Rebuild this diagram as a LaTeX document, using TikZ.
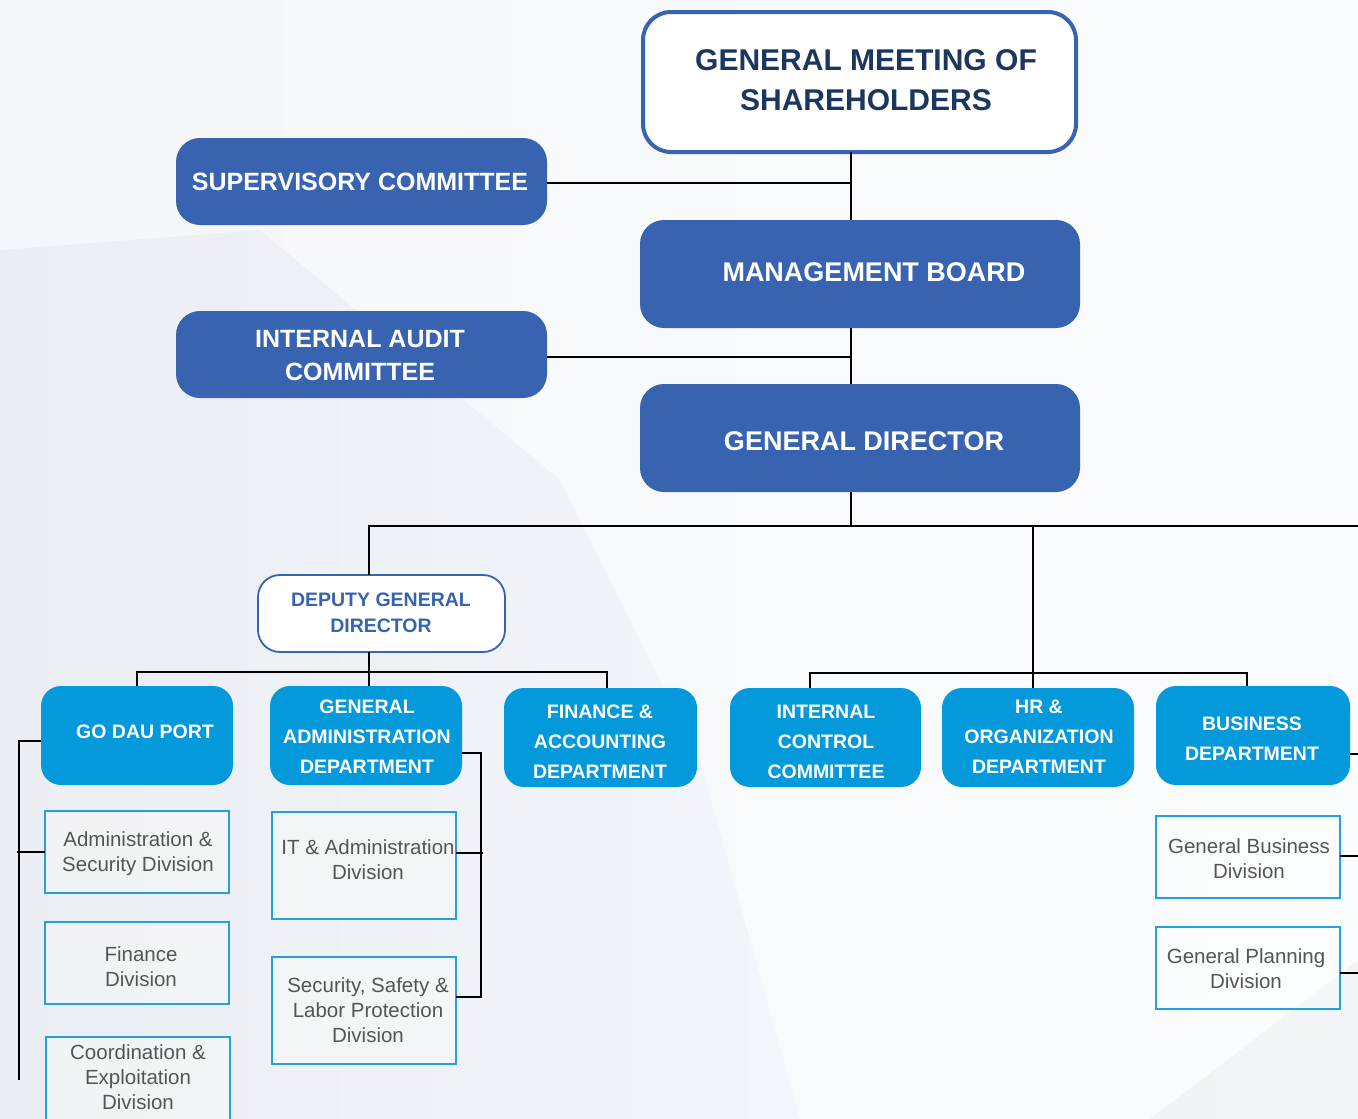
\documentclass[tikz,border=0pt]{standalone}
\usepackage{fontspec}
\setmainfont{Liberation Sans}
\definecolor{navy}{HTML}{1B365F}
\definecolor{midblue}{HTML}{3763B0}
\definecolor{brightblue}{HTML}{0499DB}
\definecolor{divborder}{HTML}{22A0E0}
\definecolor{graytext}{HTML}{555555}
\definecolor{bgA}{HTML}{EAEEF3}
\definecolor{bgB}{HTML}{F8FAFD}
\tikzset{
  box/.style={inner sep=0pt, outer sep=0pt},
  topbox/.style={box, draw=midblue, line width=4pt, fill=white, rounded corners=28pt},
  bluebox/.style={box, fill=midblue, rounded corners=24pt},
  deputybox/.style={box, draw=midblue, line width=1.8pt, fill=white, rounded corners=22pt},
  deptbox/.style={box, fill=brightblue, rounded corners=20pt},
  divbox/.style={box, draw=divborder, line width=2pt, fill=white, fill opacity=0.35},
  lbl/.style={inner sep=0pt, align=center},
  toptxt/.style={lbl, text=navy, font=\bfseries\fontsize{30}{40}\selectfont},
  bigtxt/.style={lbl, text=white, font=\bfseries\fontsize{27}{33}\selectfont},
  midtxt/.style={lbl, text=white, font=\bfseries\fontsize{25}{33}\selectfont},
  deptxt/.style={lbl, text=midblue, font=\bfseries\fontsize{19.5}{26}\selectfont},
  depttxt/.style={lbl, text=white, font=\bfseries\fontsize{19.5}{30}\selectfont},
  divtxt/.style={lbl, text=graytext, font=\fontsize{20.5}{25}\selectfont},
  conn/.style={line width=2.2pt, black},
}
\begin{document}
\begin{tikzpicture}[x=1pt, y=-1pt]
% background
\fill[left color=bgA, right color=bgB] (0,0) rectangle (1358,1119);
\fill[white, opacity=0.5] (300,0) -- (1358,0) -- (1358,1119) -- (800,1119) -- (700,760) -- (560,480) -- (260,230) -- (0,250) -- (0,0) -- cycle;
\fill[bgA, opacity=0.5] (1150,1119) -- (1358,960) -- (1358,1119) -- cycle;
\useasboundingbox (0,0) rectangle (1358,1119);

% coordinates
\coordinate (trunk) at (851,0);
\coordinate (edge) at (1358,0);
\coordinate (supY) at (0,183);
\coordinate (iacY) at (0,357);
\coordinate (h1) at (0,526);
\coordinate (h2) at (0,672);
\coordinate (h3) at (0,673);
\coordinate (depx) at (369,0);
\coordinate (hrx) at (1033,0);
\coordinate (finx) at (607,0);
\coordinate (icx) at (810,0);
\coordinate (busx) at (1247,0);
\coordinate (lb) at (19,0);
\coordinate (gb) at (481,0);
\coordinate (portY) at (0,741);
\coordinate (lbEnd) at (0,1080);
\coordinate (admY) at (0,852);
\coordinate (gaY) at (0,753);
\coordinate (itY) at (0,853);
\coordinate (secY) at (0,997);
\coordinate (busY) at (0,754);
\coordinate (gbdY) at (0,856);
\coordinate (gpdY) at (0,973);

% boxes
\node[topbox, minimum width=433, minimum height=140] (gms) at (859.5,82) {};
\node[toptxt] (gms-t) at (866,80) {GENERAL MEETING OF\\SHAREHOLDERS};

\node[bluebox, minimum width=371, minimum height=87] (sup) at (361.5,181.5) {};
\node[midtxt] (sup-t) at (360,182) {SUPERVISORY COMMITTEE};

\node[bluebox, minimum width=440, minimum height=108] (mb) at (860,274) {};
\node[bigtxt] (mb-t) at (874,272) {MANAGEMENT BOARD};

\node[bluebox, minimum width=371, minimum height=87] (iac) at (361.5,354.5) {};
\node[midtxt] (iac-t) at (360,355.5) {INTERNAL AUDIT\\COMMITTEE};

\node[bluebox, minimum width=440, minimum height=108] (gd) at (860,438) {};
\node[bigtxt] (gd-t) at (864,441) {GENERAL DIRECTOR};

\node[deputybox, minimum width=247, minimum height=77] (dep) at (381.5,613.5) {};
\node[deptxt] (dep-t) at (381,613) {DEPUTY GENERAL\\DIRECTOR};

\node[deptbox, minimum width=192, minimum height=99] (port) at (137,735.5) {};
\node[depttxt] (port-t) at (145,732) {GO DAU PORT};

\node[deptbox, minimum width=192, minimum height=99] (ga) at (366,735.5) {};
\node[depttxt] (ga-t) at (367,737) {GENERAL\\ADMINISTRATION\\DEPARTMENT};

\node[deptbox, minimum width=193, minimum height=99] (fin) at (600.5,737.5) {};
\node[depttxt] (fin-t) at (600,742) {FINANCE \&\\ACCOUNTING\\DEPARTMENT};

\node[deptbox, minimum width=191, minimum height=99] (icc) at (825.5,737.5) {};
\node[depttxt] (icc-t) at (826,742) {INTERNAL\\CONTROL\\COMMITTEE};

\node[deptbox, minimum width=192, minimum height=99] (hr) at (1038,737.5) {};
\node[depttxt] (hr-t) at (1039,737) {HR \&\\ORGANIZATION\\DEPARTMENT};

\node[deptbox, minimum width=194, minimum height=99] (bus) at (1253,735.5) {};
\node[depttxt] (bus-t) at (1252,739) {BUSINESS\\DEPARTMENT};

% divisions
\node[divbox, minimum width=184, minimum height=82] (adm) at (137,852) {};
\node[divtxt] (adm-t) at (138,853.5) {Administration \&\\Security Division};

\node[divbox, minimum width=184, minimum height=82] (finD) at (137,963) {};
\node[divtxt] (finD-t) at (141,966.5) {Finance\\Division};

\node[divbox, minimum width=184, minimum height=86] (coord) at (138,1080) {};
\node[divtxt] (coord-t) at (138,1077) {Coordination \&\\Exploitation\\Division};

\node[divbox, minimum width=184, minimum height=107] (itD) at (364,865.5) {};
\node[divtxt] (itD-t) at (368,859.5) {IT \& Administration\\Division};

\node[divbox, minimum width=184, minimum height=107] (sec) at (364,1010.5) {};
\node[divtxt] (sec-t) at (368,1010) {Security, Safety \&\\Labor Protection\\Division};

\node[divbox, minimum width=184, minimum height=82] (gbd) at (1248,857) {};
\node[divtxt] (gbd-t) at (1249,858.5) {General Business\\Division};

\node[divbox, minimum width=184, minimum height=82] (gpd) at (1248,968) {};
\node[divtxt] (gpd-t) at (1246,968.5) {General Planning\\Division};

% connectors
\draw[conn] (gms.south -| trunk) -- (mb.north -| trunk);
\draw[conn] (sup.east |- supY) -- (trunk |- supY);
\draw[conn] (mb.south -| trunk) -- (gd.north -| trunk);
\draw[conn] (iac.east |- iacY) -- (trunk |- iacY);
\draw[conn] (gd.south -| trunk) -- (trunk |- h1);
\draw[conn] (depx |- dep.north) -- (depx |- h1) -- (edge |- h1);
\draw[conn] (hrx |- h1) -- (hrx |- hr.north);
\draw[conn] (depx |- dep.south) -- (depx |- h2);
\draw[conn] (port.north) -- (port.north |- h2) -- (finx |- h2) -- (finx |- fin.north);
\draw[conn] (depx |- h2) -- (depx |- ga.north);
\draw[conn] (icx |- icc.north) -- (icx |- h3) -- (busx |- h3) -- (busx |- bus.north);
\draw[conn] (bus.east |- busY) -- (edge |- busY);
\draw[conn] (gbd.east |- gbdY) -- (edge |- gbdY);
\draw[conn] (gpd.east |- gpdY) -- (edge |- gpdY);
\draw[conn] (port.west |- portY) -- (lb |- portY) -- (lb |- lbEnd);
\draw[conn] (adm.west) -- ([xshift=-2pt]lb |- admY);
\draw[conn] (ga.east |- gaY) -- (gb |- gaY) -- (gb |- secY) -- (sec.east |- secY);
\draw[conn] (itD.east |- itY) -- ([xshift=2pt]gb |- itY);
\end{tikzpicture}
\end{document}
